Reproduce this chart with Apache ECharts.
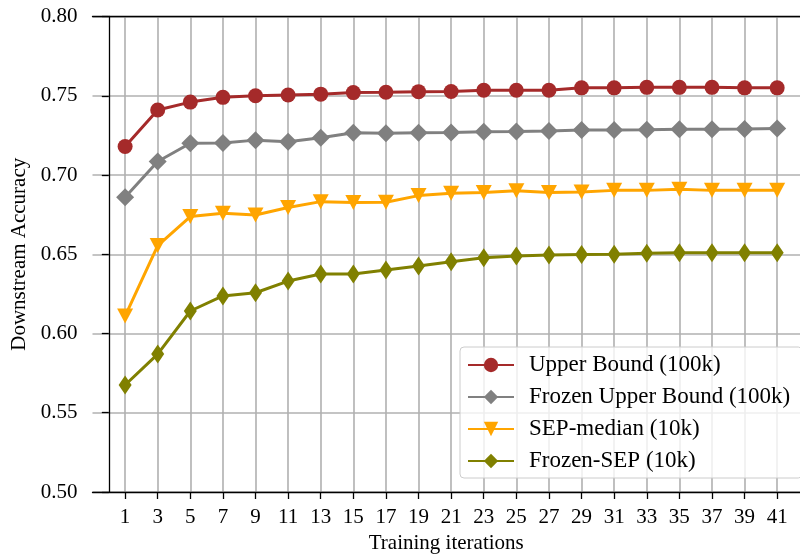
<!DOCTYPE html>
<html>
<head>
<meta charset="utf-8">
<script src="https://cdn.jsdelivr.net/npm/echarts@6/dist/echarts.min.js"></script>
<style>
  html, body { margin: 0; padding: 0; background: #fff; }
  #chart { width: 800px; height: 554px; }
</style>
</head>
<body>
<div id="chart"></div>
<script>
const iterations = [1, 3, 5, 7, 9, 11, 13, 15, 17, 19, 21, 23, 25, 27, 29, 31, 33, 35, 37, 39, 41];
const upperBound = [0.718, 0.741, 0.746, 0.749, 0.750, 0.7505, 0.751, 0.752, 0.7522, 0.7526, 0.7527, 0.7535, 0.7535, 0.7535, 0.755, 0.755, 0.7553, 0.7553, 0.7553, 0.755, 0.755];
const frozenUpperBound = [0.686, 0.7085, 0.720, 0.7202, 0.722, 0.721, 0.7235, 0.7267, 0.7264, 0.7267, 0.7268, 0.7273, 0.7274, 0.7278, 0.7284, 0.7284, 0.7285, 0.7288, 0.7288, 0.729, 0.7293];
const sepMedian = [0.611, 0.6555, 0.6738, 0.6758, 0.6748, 0.6795, 0.6832, 0.6826, 0.6828, 0.687, 0.6885, 0.689, 0.690, 0.689, 0.6893, 0.6903, 0.6903, 0.691, 0.6903, 0.6903, 0.6903];
const frozenSep = [0.5675, 0.587, 0.6142, 0.6237, 0.6257, 0.6331, 0.6375, 0.6375, 0.640, 0.6426, 0.6452, 0.6478, 0.6489, 0.6495, 0.6499, 0.650, 0.6506, 0.651, 0.651, 0.651, 0.651];
const yTicks = [0.50, 0.55, 0.60, 0.65, 0.70, 0.75, 0.80];

const font = "'Liberation Serif', 'DejaVu Serif', serif";
const chart = echarts.init(document.getElementById("chart"), null, { renderer: "canvas" });

function line(name, values, color, symbol, size, rotate) {
  return {
    name,
    type: "line",
    data: iterations.map((x, i) => [x, values[i]]),
    symbol,
    symbolSize: size,
    symbolRotate: rotate || 0,
    showAllSymbol: true,
    lineStyle: { width: 3, color },
    itemStyle: { color, borderWidth: 0 },
    emphasis: { disabled: true },
    animation: false
  };
}

// x range picked so that 1 and 41 land where the reference puts them (right spine falls off the canvas)
const xMin = -1;
const xMax = 42.4;

chart.setOption({
  animation: false,
  grid: { left: 92.5, top: 16.5, right: 0, bottom: 62, outerBoundsMode: "none" },
  legend: {
    orient: "vertical",
    left: 460,
    top: 347,
    padding: [6, 12, 5, 7],
    itemWidth: 46,
    itemHeight: 18,
    itemGap: 8,
    backgroundColor: "rgba(255,255,255,0.8)",
    borderColor: "#cccccc",
    borderWidth: 1,
    borderRadius: 4,
    textStyle: { fontFamily: font, fontSize: 23, color: "#000", lineHeight: 24, padding: [0, 0, 0, 10] },
    data: ["Upper Bound (100k)", "Frozen Upper Bound (100k)", "SEP-median (10k)", "Frozen-SEP (10k)"]
  },
  xAxis: [
    {
      type: "value",
      min: xMin,
      max: xMax,
      interval: 2,
      name: "Training iterations",
      nameLocation: "middle",
      nameGap: 41,
      nameTextStyle: { fontFamily: font, fontSize: 21, color: "#000" },
      axisLine: { lineStyle: { color: "#000", width: 1.3 } },
      axisTick: { length: 7, lineStyle: { color: "#000", width: 1.3 }, customValues: iterations },
      axisLabel: { fontFamily: font, fontSize: 21, color: "#000", margin: 15, customValues: iterations },
      splitLine: { show: true, lineStyle: { color: "#b0b0b0", width: 1.6 } }
    },
    {
      type: "value",
      position: "top",
      min: xMin,
      max: xMax,
      axisLine: { show: true, lineStyle: { color: "#000", width: 1.3 } },
      axisTick: { show: false },
      axisLabel: { show: false },
      splitLine: { show: false }
    }
  ],
  yAxis: {
    type: "value",
    min: 0.5,
    max: 0.8,
    interval: 0.05,
    name: "Downstream Accuracy",
    nameLocation: "middle",
    nameGap: 56,
    nameTextStyle: { fontFamily: font, fontSize: 21, color: "#000" },
    axisLine: { show: true, lineStyle: { color: "#000", width: 1.3 } },
    axisTick: { show: true, length: 7, lineStyle: { color: "#000", width: 1.3 } },
    axisLabel: { fontFamily: font, fontSize: 21, color: "#000", margin: 15, formatter: (v) => v.toFixed(2), customValues: yTicks },
    splitLine: { show: true, lineStyle: { color: "#b0b0b0", width: 1.6 } }
  },
  series: [
    line("Upper Bound (100k)", upperBound, "#a52a2a", "circle", 15),
    line("Frozen Upper Bound (100k)", frozenUpperBound, "#808080", "diamond", [18, 18]),
    line("SEP-median (10k)", sepMedian, "#ffa500", "triangle", [16, 15], 180),
    line("Frozen-SEP (10k)", frozenSep, "#808000", "diamond", [13, 19])
  ]
});
</script>
</body>
</html>
